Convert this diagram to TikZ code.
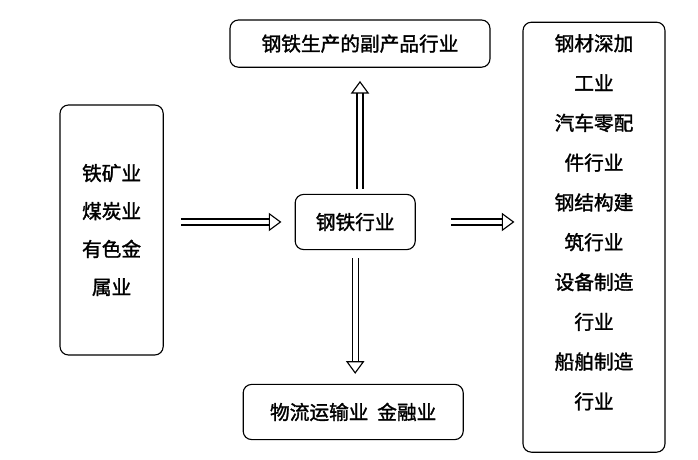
\documentclass[tikz,border=0pt]{standalone}
\usepackage{fontspec}
\newfontfamily\cjk[FakeBold=1.5]{Noto Sans CJK SC}
\usetikzlibrary{arrows.meta}
\tikzset{
	box/.style={draw, thick, rounded corners=6pt, align=center, font=\cjk\fontsize{14}{27}\selectfont},
	harrow/.style={double, double distance=3.5pt, thick, -{Triangle[open, length=9pt, width=13pt]}},
}
\begin{document}
\begin{tikzpicture}
	\useasboundingbox (0,0) rectangle (17.45,-11.5);
	\node[box, minimum width=2.58cm, minimum height=6.25cm] (mine) at (2.79,-5.75) {铁矿业\\煤炭业\\有色金\\属业};
	\node[box, minimum width=6.5cm, minimum height=1.18cm] (byprod) at (9,-1.09) {钢铁生产的副产品行业};
	\node[box, minimum width=3cm, minimum height=1.38cm] (steel) at (8.88,-5.55) {钢铁行业};
	\node[box, minimum width=5.5cm, minimum height=1.38cm] (logis) at (8.83,-10.3) {物流运输业\ \ 金融业};
	\node[box, minimum width=3.55cm, minimum height=10.75cm, font=\cjk\fontsize{14}{28.3}\selectfont] (down) at (14.85,-5.93)
		{钢材深加\\工业\\汽车零配\\件行业\\钢结构建\\筑行业\\设备制造\\行业\\船舶制造\\行业\\[-6pt]};

	\draw[harrow, shorten <=0.43cm, shorten >=0.33cm] (mine.east |- steel) -- (steel.west);
	\draw[harrow, shorten <=0.88cm, shorten >=0.2cm] (steel.east) -- (down.west |- steel);
	\draw[harrow, shorten <=0.12cm, shorten >=0.33cm] (steel.north -| byprod.south) -- (byprod.south);
	\draw[harrow, shorten <=0.2cm, shorten >=0.25cm] (steel.south) -- (steel.south |- logis.north);
\end{tikzpicture}
\end{document}
